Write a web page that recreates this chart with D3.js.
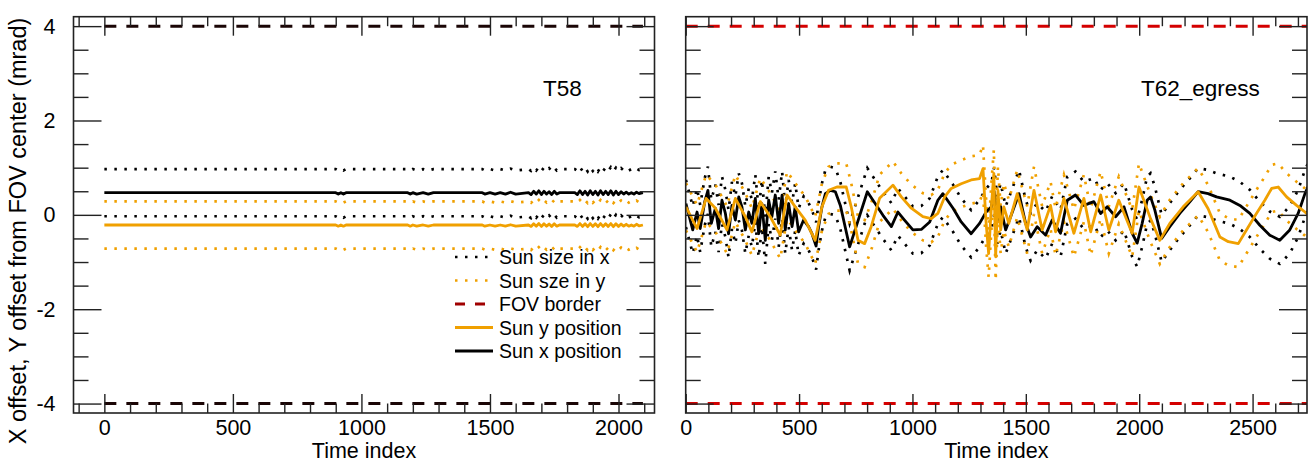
<!DOCTYPE html>
<html>
<head>
<meta charset="utf-8">
<script src="https://cdn.jsdelivr.net/npm/d3@7"></script>
<style>
  body { margin: 0; background: #fff; }
  text { font-family: "Liberation Sans", Arial, sans-serif; fill: #000; }
</style>
</head>
<body>
<div id="chart"></div>
<script>
// ---------- data ----------
var yTicks = [-4, -2, 0, 2, 4];
var fovBorder = 4;          // mrad
var sunRadius = 0.5;        // half of the sun size, mrad

// T58 : sun x / y position, shared time index
var t58Idx = [0, 900, 910, 920, 930, 940, 950, 1180, 1190, 1200, 1215, 1240, 1260, 1280,
  1470, 1480, 1500, 1520, 1540, 1560, 1580, 1600,
  1650, 1660, 1670, 1680, 1690, 1700, 1710, 1720, 1730, 1740, 1750, 1760, 1770, 1780,
  1830, 1840, 1850, 1860, 1870, 1880, 1890, 1900, 1910, 1920, 1930, 1940, 1950, 1960,
  1970, 1980, 1990, 2000, 2010, 2020, 2030, 2040, 2050, 2060, 2070, 2080, 2095];
var t58X = [0.47, 0.47, 0.44, 0.47, 0.44, 0.47, 0.47, 0.47, 0.44, 0.47, 0.44, 0.47, 0.44, 0.47,
  0.47, 0.44, 0.47, 0.44, 0.47, 0.44, 0.48, 0.44,
  0.47, 0.43, 0.50, 0.44, 0.51, 0.43, 0.50, 0.44, 0.49, 0.43, 0.50, 0.44, 0.47, 0.47,
  0.47, 0.43, 0.51, 0.43, 0.50, 0.42, 0.51, 0.43, 0.50, 0.42, 0.51, 0.43, 0.50, 0.43,
  0.51, 0.42, 0.50, 0.43, 0.49, 0.44, 0.48, 0.44, 0.47, 0.44, 0.48, 0.45, 0.47];
var t58Y = [-0.215, -0.215, -0.24, -0.215, -0.24, -0.215, -0.215, -0.215, -0.24, -0.215, -0.24, -0.215, -0.24, -0.215,
  -0.215, -0.24, -0.215, -0.24, -0.215, -0.24, -0.21, -0.24,
  -0.215, -0.245, -0.19, -0.24, -0.185, -0.245, -0.19, -0.24, -0.195, -0.245, -0.19, -0.24, -0.215, -0.215,
  -0.215, -0.245, -0.185, -0.245, -0.19, -0.25, -0.185, -0.245, -0.19, -0.25, -0.185, -0.245, -0.19, -0.245,
  -0.185, -0.25, -0.19, -0.245, -0.195, -0.24, -0.2, -0.24, -0.215, -0.24, -0.2, -0.235, -0.215];

// T62_egress : sun x position
var t62XIdx = [1, 16, 31, 50, 64, 84, 98, 113, 131, 145, 160, 175, 189, 204, 219, 234, 248, 263, 278, 292,
  307, 322, 336, 351, 366, 380, 395, 410, 425, 439, 454, 469, 483, 498, 520, 542, 557, 575, 586, 601,
  616, 638, 660, 682, 723, 801, 870, 907, 936, 965, 1002, 1039, 1076, 1112, 1134, 1179, 1215, 1259, 1296, 1325,
  1348, 1360, 1374, 1389, 1411, 1433, 1470, 1499, 1521, 1550, 1587, 1616, 1653, 1683, 1719, 1756, 1800, 1830, 1859, 1896,
  1933, 1969, 1991, 2013, 2035, 2050, 2069, 2099, 2135, 2179, 2224, 2260, 2304, 2341, 2400, 2444, 2488, 2532, 2576, 2620,
  2664, 2701, 2731, 2745];
var t62X = [0.24, -0.04, -0.32, 0.06, -0.29, 0.28, 0.52, -0.18, 0.14, -0.29, 0.31, 0.03, -0.40, 0.20, -0.11, 0.38, 0.17, -0.32, 0.06, -0.18,
  0.35, -0.40, 0.24, -0.54, 0.31, -0.04, 0.42, -0.18, 0.42, -0.32, 0.24, -0.25, 0.17, -0.36, -0.11, -0.25, -0.40, -0.66, -0.25, 0.17,
  0.45, 0.52, 0.49, 0.20, -0.68, 0.49, -0.01, -0.25, 0.06, -0.11, -0.32, -0.31, -0.15, 0.31, 0.45, 0.14, -0.15, -0.40, -0.18, 0.06,
  0.17, 0.50, -0.11, 0.17, -0.32, -0.04, 0.45, -0.18, -0.47, -0.25, -0.43, -0.11, -0.39, 0.31, 0.42, 0.20, 0.28, 0.03, 0.17, -0.04,
  0.17, -0.39, -0.60, -0.18, 0.31, 0.38, 0.10, -0.50, -0.25, 0.03, 0.28, 0.49, 0.45, 0.38, 0.31, 0.20, 0.03, -0.22, -0.43, -0.54,
  -0.32, 0.03, 0.45, 0.60];

// T62_egress : sun y position
var t62YIdx = [1, 50, 90, 131, 182, 219, 263, 292, 329, 373, 417, 447, 483, 527, 571, 601, 630, 667, 708, 730,
  760, 789, 818, 855, 914, 951, 995, 1046, 1083, 1112, 1142, 1171, 1215, 1259, 1296, 1311, 1325, 1336, 1348, 1359,
  1367, 1377, 1389, 1403, 1425, 1462, 1506, 1536, 1572, 1609, 1631, 1668, 1712, 1756, 1786, 1830, 1866, 1910, 1969, 1999,
  2050, 2091, 2135, 2194, 2260, 2304, 2356, 2393, 2437, 2473, 2517, 2554, 2584, 2613, 2650, 2694, 2731, 2745];
var t62Y = [0.17, -0.29, 0.35, 0.14, -0.32, 0.35, -0.04, -0.36, 0.28, -0.04, -0.43, 0.42, 0.17, -0.11, -0.54, 0.17, 0.52, 0.59, 0.59, 0.17,
  -0.54, -0.61, -0.25, 0.35, 0.63, 0.38, 0.14, -0.04, -0.08, 0.03, 0.38, 0.56, 0.66, 0.74, 0.77, 0.98, -0.18, -0.82, 0.17, 0.88,
  -0.89, 0.52, -0.32, 0.17, -0.18, 0.45, -0.32, 0.52, -0.32, 0.20, -0.36, 0.35, -0.39, 0.35, -0.36, 0.42, -0.32, 0.31, -0.39, 0.59,
  -0.08, -0.54, -0.18, 0.17, 0.49, 0.13, -0.47, -0.57, -0.61, -0.32, 0.03, 0.31, 0.56, 0.59, 0.38, 0.20, 0.06, 0.0];

var legendLabels = ["Sun size in x", "Sun sze in y", "FOV border", "Sun y position", "Sun x position"];

// ---------- layout ----------
var width = 1309, height = 462;
var plotTop = 16.7, plotBottom = 413;
var orange = "#f0a000";

var svg = d3.select("#chart").append("svg")
    .attr("width", width)
    .attr("height", height);

function drawPanel(p) {
    var g = svg.append("g");
    var x = d3.scaleLinear().domain(p.xDomain).range([p.left, p.right]);
    var y = d3.scaleLinear().domain([-4.2, 4.2]).range([plotBottom, plotTop]);

    g.append("clipPath").attr("id", p.id)
        .append("rect")
        .attr("x", p.left).attr("y", plotTop)
        .attr("width", p.right - p.left).attr("height", plotBottom - plotTop);

    var plot = g.append("g").attr("clip-path", "url(#" + p.id + ")");
    var line = d3.line().x(d => x(d[0])).y(d => y(d[1]));

    // sun edges (dotted) : position +/- radius
    function edges(idx, vals, color) {
        [1, -1].forEach(function(s) {
            plot.append("path")
                .datum(d3.zip(idx, vals.map(v => v + s * sunRadius)))
                .attr("d", line)
                .attr("fill", "none")
                .attr("stroke", color)
                .attr("stroke-width", 2.7)
                .attr("stroke-dasharray", "2.5,7.5");
        });
    }
    edges(p.xIdx, p.xVals, "#000");
    edges(p.yIdx, p.yVals, orange);

    // FOV border
    [fovBorder, -fovBorder].forEach(function(b) {
        plot.append("path")
            .datum([[p.fovSpan[0], b], [p.fovSpan[1], b]])
            .attr("d", line)
            .attr("fill", "none")
            .attr("stroke", p.fovColor)
            .attr("stroke-width", 3)
            .attr("stroke-dasharray", "12,10");
    });

    // positions
    plot.append("path")
        .datum(d3.zip(p.xIdx, p.xVals))
        .attr("d", line)
        .attr("fill", "none")
        .attr("stroke", "#000")
        .attr("stroke-width", 2.8)
        .attr("stroke-linejoin", "round");
    plot.append("path")
        .datum(d3.zip(p.yIdx, p.yVals))
        .attr("d", line)
        .attr("fill", "none")
        .attr("stroke", orange)
        .attr("stroke-width", 2.8)
        .attr("stroke-linejoin", "round");

    // axes, IDL style ticks pointing inward on all four sides
    var xMajor = d3.range(0, p.xDomain[1] + 1, 500);
    var xMinor = d3.range(Math.ceil(p.xDomain[0] / 100) * 100, p.xDomain[1] + 1, 100).filter(v => v % 500 != 0);
    var yMinor = d3.range(-4, 4.01, 0.5).filter(v => v % 2 != 0);
    var fmt = d => String(d);

    g.append("g").attr("transform", "translate(0," + plotBottom + ")")
        .call(d3.axisBottom(x).tickValues(xMinor).tickSize(-9.5).tickFormat(""));
    g.append("g").attr("class", "lab").attr("transform", "translate(0," + plotBottom + ")")
        .call(d3.axisBottom(x).tickValues(xMajor).tickSizeInner(-19).tickSizeOuter(0).tickPadding(7).tickFormat(fmt));
    g.append("g").attr("transform", "translate(0," + plotTop + ")")
        .call(d3.axisTop(x).tickValues(xMinor).tickSize(-9.5).tickFormat(""));
    g.append("g").attr("transform", "translate(0," + plotTop + ")")
        .call(d3.axisTop(x).tickValues(xMajor).tickSize(-19).tickFormat(""));

    g.append("g").attr("transform", "translate(" + p.left + ",0)")
        .call(d3.axisLeft(y).tickValues(yMinor).tickSize(-15).tickFormat(""));
    g.append("g").attr("class", "lab").attr("transform", "translate(" + p.left + ",0)")
        .call(d3.axisLeft(y).tickValues(yTicks).tickSizeInner(-28).tickSizeOuter(0).tickPadding(18)
            .tickFormat(p.yLabels ? fmt : ""));
    g.append("g").attr("transform", "translate(" + p.right + ",0)")
        .call(d3.axisRight(y).tickValues(yMinor).tickSize(-15).tickFormat(""));
    g.append("g").attr("transform", "translate(" + p.right + ",0)")
        .call(d3.axisRight(y).tickValues(yTicks).tickSize(-28).tickFormat(""));

    g.selectAll(".domain").remove();
    g.selectAll(".tick line").attr("stroke", "#222").attr("stroke-width", 1.4);
    g.selectAll(".lab text")
        .attr("font-size", 21.5)
        .attr("font-family", "Liberation Sans, Arial, sans-serif")
        .attr("fill", "#000");

    g.append("rect")
        .attr("x", p.left).attr("y", plotTop)
        .attr("width", p.right - p.left).attr("height", plotBottom - plotTop)
        .attr("fill", "none").attr("stroke", "#222").attr("stroke-width", 1.6);

    g.append("text")
        .attr("x", (p.left + p.right) / 2).attr("y", 457.5)
        .attr("text-anchor", "middle").attr("font-size", 21.5)
        .text("Time index");

    g.append("text")
        .attr("x", p.titleX).attr("y", 96)
        .attr("font-size", 22.5)
        .text(p.title);
}

drawPanel({
    id: "clipL", left: 73.5, right: 654.5, xDomain: [-120, 2140],
    xIdx: t58Idx, xVals: t58X, yIdx: t58Idx, yVals: t58Y,
    fovSpan: [0, 2095], fovColor: "#1a0505",
    yLabels: true, title: "T58", titleX: 543
});

drawPanel({
    id: "clipR", left: 685.7, right: 1307, xDomain: [0, 2740],
    xIdx: t62XIdx, xVals: t62X, yIdx: t62YIdx, yVals: t62Y,
    fovSpan: [0, 2740], fovColor: "#d40000",
    yLabels: false, title: "T62_egress", titleX: 1141
});

// y axis title
svg.append("text")
    .attr("transform", "translate(18,231) rotate(-90)")
    .attr("text-anchor", "middle")
    .attr("dominant-baseline", "central")
    .attr("font-size", 23.5)
    .text("X offset, Y offset from FOV center (mrad)");

// legend (left panel)
var legendStyles = [
    {color: "#000", dash: "2.5,7.5", w: 2.6},
    {color: orange, dash: "2.5,7.5", w: 2.6},
    {color: "#a00000", dash: "10,10", w: 3},
    {color: orange, dash: null, w: 2.8},
    {color: "#000", dash: null, w: 2.8}
];
var legend = svg.append("g");
legendLabels.forEach(function(lab, i) {
    var yy = 257 + i * 23.5;
    legend.append("line")
        .attr("x1", 455).attr("x2", 493).attr("y1", yy).attr("y2", yy)
        .attr("stroke", legendStyles[i].color)
        .attr("stroke-width", legendStyles[i].w)
        .attr("stroke-dasharray", legendStyles[i].dash);
    legend.append("text")
        .attr("x", 499).attr("y", yy)
        .attr("dominant-baseline", "central")
        .attr("font-size", 19.5)
        .text(lab);
});
</script>
</body>
</html>
